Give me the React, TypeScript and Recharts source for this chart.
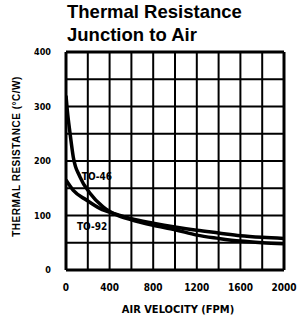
import React from "react";
import {
  ComposedChart,
  Line,
  XAxis,
  YAxis,
  CartesianGrid,
  ReferenceLine,
  ReferenceDot,
} from "recharts";

// air velocity (FPM) -> thermal resistance (°C/W)
const to46Velocity = [0, 12, 37, 67, 128, 220, 340, 465, 600, 800, 1000, 1200, 1400, 1600, 1800, 2000];
const to46Resistance = [320, 293, 251, 207, 171, 141, 116, 101, 92, 82, 74, 64, 58, 53, 50, 48];

const to92Velocity = [0, 67, 190, 310, 465, 600, 800, 1000, 1200, 1400, 1600, 1800, 2000];
const to92Resistance = [165, 146, 128, 113, 102, 94, 86, 79, 73, 68, 63, 60, 58];

const xTickLabels = [0, 400, 800, 1200, 1600, 2000];
const yTickLabels = [0, 100, 200, 300, 400];
const xGrid = [0, 200, 400, 600, 800, 1000, 1200, 1400, 1600, 1800, 2000];
const yGrid = [0, 50, 100, 150, 200, 250, 300, 350, 400];

const curveLabels = [
  { name: "TO-46", x: 284, y: 172 },
  { name: "TO-92", x: 239, y: 80 },
];

const to46 = to46Velocity.map((v, i) => ({ v, r: to46Resistance[i] }));
const to92 = to92Velocity.map((v, i) => ({ v, r: to92Resistance[i] }));

const narrow = "'Liberation Sans Narrow', 'DejaVu Sans Condensed', sans-serif";

const tickFont = {
  fontSize: 10,
  fontWeight: 700,
  fill: "#000",
  fontFamily: narrow,
};

export default function App() {
  return (
    <div
      style={{
        position: "absolute",
        left: 0,
        top: 0,
        width: 302,
        height: 324,
        background: "#fff",
        fontFamily: "'Liberation Sans', Arial, sans-serif",
      }}
    >
      <div
        style={{
          position: "absolute",
          left: 67,
          top: 0,
          fontSize: 18.5,
          fontWeight: 700,
          lineHeight: "23px",
          color: "#000",
        }}
      >
        Thermal Resistance
        <br />
        Junction to Air
      </div>
      <ComposedChart
        width={302}
        height={324}
        margin={{ top: 52, right: 18, bottom: 24, left: 0 }}
      >
        <CartesianGrid stroke="#000" strokeWidth={2} />
        <XAxis
          type="number"
          dataKey="v"
          domain={[0, 2000]}
          ticks={xGrid}
          interval={0}
          tickFormatter={(t: number) => (xTickLabels.includes(t) ? String(t) : "")}
          axisLine={false}
          tickLine={false}
          tickSize={0}
          tickMargin={14}
          height={30}
          tick={tickFont}
          allowDataOverflow
        />
        <YAxis
          type="number"
          dataKey="r"
          domain={[0, 400]}
          ticks={yGrid}
          interval={0}
          tickFormatter={(t: number) => (yTickLabels.includes(t) ? String(t) : "")}
          axisLine={false}
          tickLine={false}
          tickSize={0}
          tickMargin={15}
          width={66}
          tick={{ ...tickFont, fontSize: 9 }}
          allowDataOverflow
        />
        <ReferenceLine x={0} stroke="#000" strokeWidth={3} />
        <ReferenceLine x={2000} stroke="#000" strokeWidth={3} />
        <ReferenceLine y={0} stroke="#000" strokeWidth={3} />
        <ReferenceLine y={400} stroke="#000" strokeWidth={3} />
        <Line
          data={to46}
          dataKey="r"
          type="monotone"
          stroke="#000"
          strokeWidth={3.5}
          dot={false}
          isAnimationActive={false}
        />
        <Line
          data={to92}
          dataKey="r"
          type="monotone"
          stroke="#000"
          strokeWidth={3.5}
          dot={false}
          isAnimationActive={false}
        />
        {curveLabels.map((c) => (
          <ReferenceDot
            key={c.name}
            x={c.x}
            y={c.y}
            r={0}
            stroke="none"
            label={{
              value: c.name,
              position: "center",
              fill: "#000",
              fontSize: 10,
              fontWeight: 700,
              fontFamily: narrow,
            }}
          />
        ))}
      </ComposedChart>
      <div
        style={{
          position: "absolute",
          left: 0,
          width: 356,
          top: 303,
          textAlign: "center",
          fontSize: 11,
          fontWeight: 700,
          fontFamily: narrow,
        }}
      >
        AIR VELOCITY (FPM)
      </div>
      <div
        style={{
          position: "absolute",
          left: 16,
          top: 157,
          width: 240,
          marginLeft: -120,
          marginTop: -6,
          textAlign: "center",
          transform: "rotate(-90deg)",
          fontSize: 10,
          fontWeight: 700,
          letterSpacing: 0.5,
          whiteSpace: "nowrap",
        }}
      >
        THERMAL RESISTANCE (°C/W)
      </div>
    </div>
  );
}
